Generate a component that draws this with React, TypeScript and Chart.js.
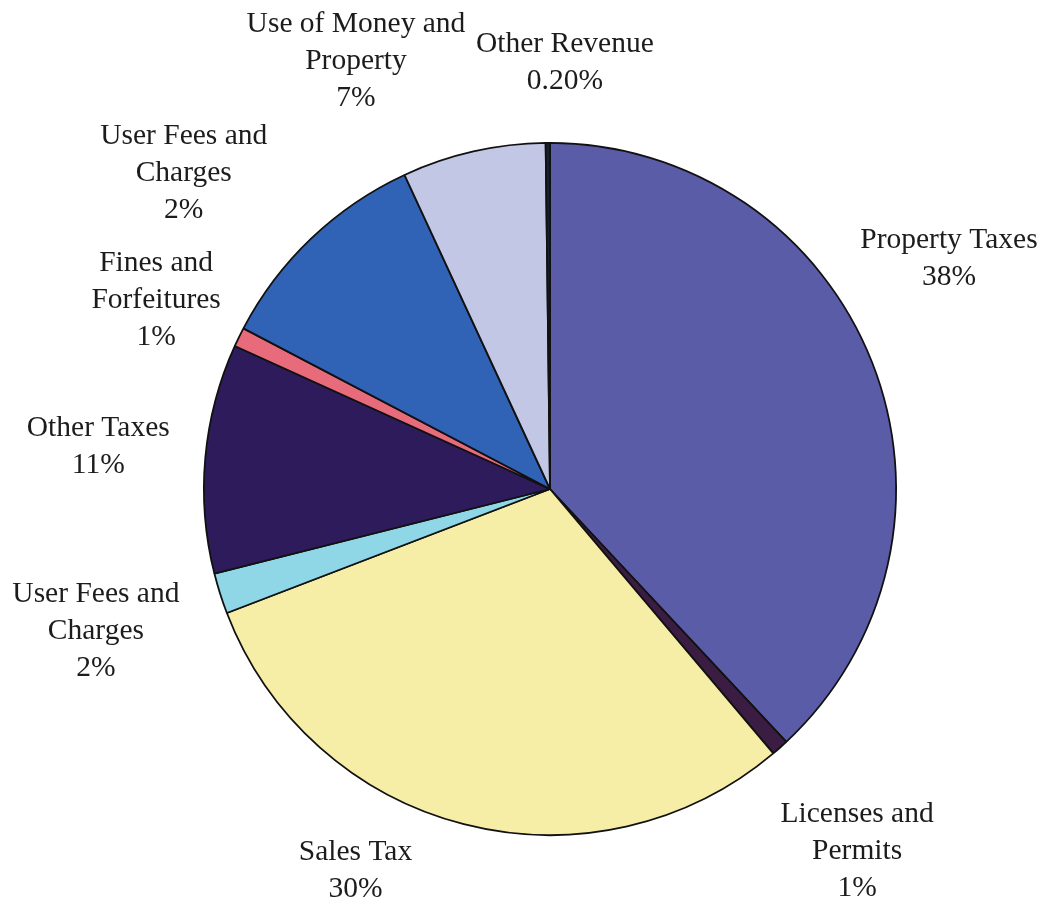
import React, { useEffect, useRef } from "react";
import { Chart, registerables } from "chart.js";

Chart.register(...registerables);

// Slices, clockwise from 12 o'clock (visual shares)
const categories = [
  "Property Taxes",
  "Licenses and Permits",
  "Sales Tax",
  "User Fees and Charges (a)",
  "Other Taxes",
  "Fines and Forfeitures",
  "User Fees and Charges (b)",
  "Use of Money and Property",
  "Other Revenue",
];
const shares = [38.0, 0.8, 30.3, 1.9, 10.7, 0.9, 10.4, 6.7, 0.2];
const sliceColors = [
  "#5b5ca8",
  "#3b1c42",
  "#f6eda6",
  "#8fd6e6",
  "#2e1b5c",
  "#e86b7b",
  "#3062b6",
  "#c3c7e6",
  "#16202e",
];

// Label texts as printed on the chart
const labelLines: string[][] = [
  ["Property Taxes", "38%"],
  ["Licenses and", "Permits", "1%"],
  ["Sales Tax", "30%"],
  ["User Fees and", "Charges", "2%"],
  ["Other Taxes", "11%"],
  ["Fines and", "Forfeitures", "1%"],
  ["User Fees and", "Charges", "2%"],
  ["Use of Money and", "Property", "7%"],
  ["Other Revenue", "0.20%"],
];
// Label placement in polar terms: angle (deg, clockwise from top) and distance / radius
const labelAngles = [60.0, 139.7, 207.0, 252.6, 275.4, 295.6, 310.8, 335.6, 2.0];
const labelRadii = [1.331, 1.372, 1.238, 1.375, 1.311, 1.262, 1.398, 1.357, 1.231];

const labelPlugin = {
  id: "outerLabels",
  afterDraw(chart: any) {
    const meta = chart.getDatasetMeta(0);
    const arc = meta.data[0];
    if (!arc) return;
    const cx = arc.x;
    const cy = arc.y;
    const R = arc.outerRadius;
    const ctx = chart.ctx;
    ctx.save();
    ctx.font = '29.5px "Liberation Serif", "DejaVu Serif", serif';
    ctx.fillStyle = "#1c1c1c";
    ctx.textAlign = "center";
    ctx.textBaseline = "middle";
    const lh = 37;
    labelLines.forEach((lines, i) => {
      const a = ((labelAngles[i] - 90) * Math.PI) / 180;
      const x = cx + R * labelRadii[i] * Math.cos(a);
      const y = cy + R * labelRadii[i] * Math.sin(a);
      const y0 = y - ((lines.length - 1) * lh) / 2;
      lines.forEach((t, j) => ctx.fillText(t, x, y0 + j * lh));
    });
    ctx.restore();
  },
};

export default function App() {
  const ref = useRef<HTMLCanvasElement | null>(null);
  useEffect(() => {
    if (!ref.current) return;
    const chart = new Chart(ref.current, {
      type: "pie",
      data: {
        labels: categories,
        datasets: [
          {
            data: shares,
            backgroundColor: sliceColors,
            borderColor: "#111111",
            borderWidth: 1.8,
          },
        ],
      },
      options: {
        responsive: false,
        animation: false,
        layout: { padding: { left: 203, right: 148, top: 142, bottom: 71 } },
        plugins: {
          legend: { display: false },
          tooltip: { enabled: false },
        },
      },
      plugins: [labelPlugin],
    });
    return () => chart.destroy();
  }, []);
  return (
    <div style={{ position: "fixed", left: 0, top: 0, width: 1045, height: 907, background: "#fff" }}>
      <canvas ref={ref} width={1045} height={907} />
    </div>
  );
}
